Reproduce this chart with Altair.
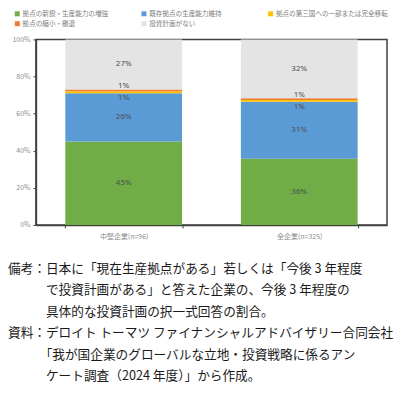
import altair as alt
import pandas as pd

categories = ["中堅企業(n=96)", "全企業(n=325)"]
series = ["拠点の新設・生産能力の増強", "既存拠点の生産能力維持", "拠点の第三国への一部または完全移転",
          "拠点の縮小・撤退", "投資計画がない"]
colors = ["#70AD47", "#5B9BD5", "#FFC000", "#ED7D31", "#E4E4E4"]
mid_values = [45, 26, 1, 1, 27]
all_values = [36, 31, 1, 1, 32]
y_ticks = [0, 0.2, 0.4, 0.6, 0.8, 1.0]

INDENT = "\u200b\u3000\u3000\u3000"
note_lines = [
    "備考：日本に「現在生産拠点がある」若しくは「今後 3 年程度",
    INDENT + "で投資計画がある」と答えた企業の、今後 3 年程度の",
    INDENT + "具体的な投資計画の択一式回答の割合。",
    "資料：デロイト トーマツ ファイナンシャルアドバイザリー合同会社",
    INDENT + "「我が国企業のグローバルな立地・投資戦略に係るアン",
    INDENT + "ケート調査（2024 年度）」から作成。",
]

rows = []
for cat, vals in zip(categories, [mid_values, all_values]):
    for i, (s, v) in enumerate(zip(series, vals)):
        rows.append({"cat": cat, "series": s, "idx": i, "value": v})
df = pd.DataFrame(rows)

FONT = "Noto Sans CJK JP"
FRAME = "#404040"

base = alt.Chart(df).transform_stack(
    stack="value", groupby=["cat"], sort=[alt.SortField("idx", order="ascending")],
    as_=["v0", "v1"], offset="normalize"
).transform_calculate(
    mid="(datum.v0 + datum.v1) / 2", label="datum.value + '%'"
)

x_scale = alt.Scale(paddingInner=0.335, paddingOuter=0.1675)
y_scale = alt.Scale(domain=[0, 1])
x_axis = alt.Axis(labelAngle=0, labelFontSize=7, labelColor="#8c8c8c", labelFont=FONT,
                  domain=True, domainColor=FRAME, domainWidth=1.5,
                  tickSize=3, tickColor=FRAME, tickBand="extent",
                  labelPadding=5, labelOverlap=False, title=None)
y_axis = alt.Axis(format=".0%", values=y_ticks, grid=False,
                  domain=True, domainColor=FRAME, domainWidth=1.5, tickSize=3,
                  tickColor=FRAME, labelFontSize=7, labelColor="#8c8c8c",
                  labelFont=FONT, labelPadding=3, labelOverlap=False, title=None)

bars = base.mark_bar().encode(
    x=alt.X("cat:N", sort=categories, scale=x_scale, axis=x_axis),
    y=alt.Y("v0:Q", scale=y_scale, axis=y_axis),
    y2="v1:Q",
    color=alt.Color("series:N", scale=alt.Scale(domain=series, range=colors),
                    legend=alt.Legend(orient="none", legendX=-22, legendY=-29, direction="horizontal",
                                      columns=3, title=None, symbolType="square", symbolSize=25,
                                      symbolStrokeWidth=0, labelFontSize=6.6, labelColor="#808080",
                                      labelFont=FONT, gridAlign="all", columnPadding=6, rowPadding=3,
                                      labelOffset=2, padding=0)),
)

txt_common = dict(fontSize=8, color="#4d4d4d", font="Noto Sans")


def label_layer(flt, dy):
    return base.transform_filter(flt).mark_text(dy=dy, **txt_common).encode(
        x=alt.X("cat:N", sort=categories, scale=x_scale, axis=x_axis),
        y=alt.Y("mid:Q", scale=y_scale, axis=y_axis),
        text="label:N")


text_big = label_layer("datum.value >= 5", 0)
text_yel = label_layer("datum.idx == 2", 6)
text_org = label_layer("datum.idx == 3", -4)

chart = alt.layer(bars, text_big, text_yel, text_org).properties(
    width=352, height=186,
    padding={"left": 0, "top": 2, "right": 0, "bottom": 0},
    title=alt.TitleParams(text=note_lines, orient="bottom", anchor="start", frame="group",
                          dx=-28, offset=23, fontSize=12.7, font=FONT, fontWeight="normal",
                          color="#1a1a1a", lineHeight=21.5),
).configure_view(stroke=FRAME, strokeWidth=1.5)

chart.save("out.html", embed_options={"renderer": "svg", "actions": False})
